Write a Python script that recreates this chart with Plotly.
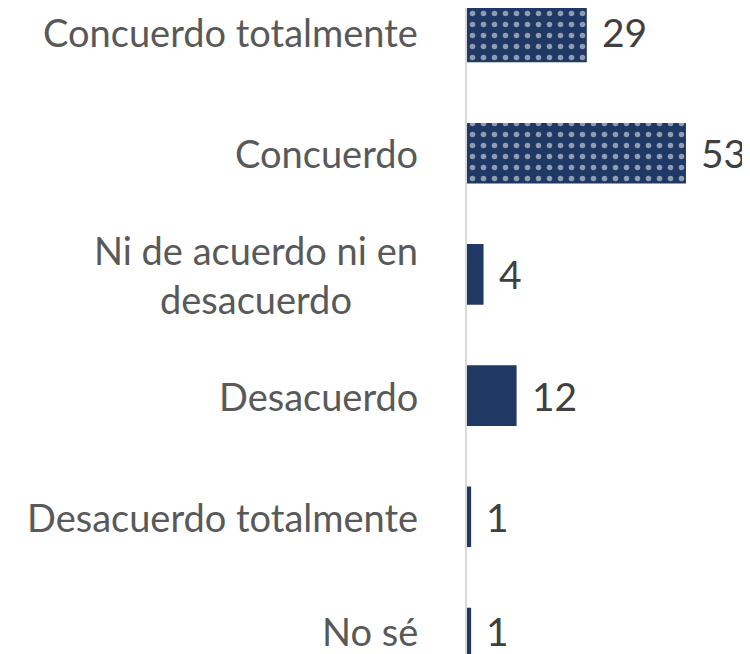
import plotly.graph_objects as go

categories = ["Concuerdo totalmente", "Concuerdo", "Ni de acuerdo ni en<br>desacuerdo",
              "Desacuerdo", "Desacuerdo totalmente", "No sé"]
values = [29, 53, 4, 12, 1, 1]
patterned = [True, True, False, False, False, False]

NAVY = "#1f3864"
idx = list(range(len(categories)))

fig = go.Figure()
fig.add_trace(go.Bar(
    y=idx, x=values, orientation="h", width=0.5,
    marker=dict(color=NAVY, line=dict(width=0),
                pattern=dict(shape=["." if p else "" for p in patterned],
                             fgcolor="white", bgcolor=NAVY, size=11, solidity=0.2)),
    hoverinfo="skip",
))

annotations = []
last = len(categories) - 1
for i, (c, v) in enumerate(zip(categories, values)):
    ys = 7 if i == last else 0
    annotations.append(dict(x=0, y=i, xref="x", yref="y", text=c, showarrow=False,
                            xanchor="right", yanchor="middle", align="center", xshift=-47,
                            yshift=ys,
                            font=dict(family="Lato", size=38, color="#595959")))
    annotations.append(dict(x=v, y=i, xref="x", yref="y", text=str(v), showarrow=False,
                            xanchor="left", yanchor="middle", xshift=13, yshift=ys,
                            font=dict(family="Lato", size=39, color="#404040")))

fig.update_layout(
    width=742, height=646,
    margin=dict(l=459, r=0, t=0, b=0),
    paper_bgcolor="white", plot_bgcolor="white",
    showlegend=False,
    annotations=annotations,
    xaxis=dict(range=[0, 68.5], showgrid=False, zeroline=False, showticklabels=False,
               showline=False, fixedrange=True),
    yaxis=dict(range=[5.132, -0.198], showgrid=False, zeroline=False, showticklabels=False,
               showline=True, linecolor="#d9d9d9", linewidth=2, fixedrange=True),
)

fig.write_html("out.html")
